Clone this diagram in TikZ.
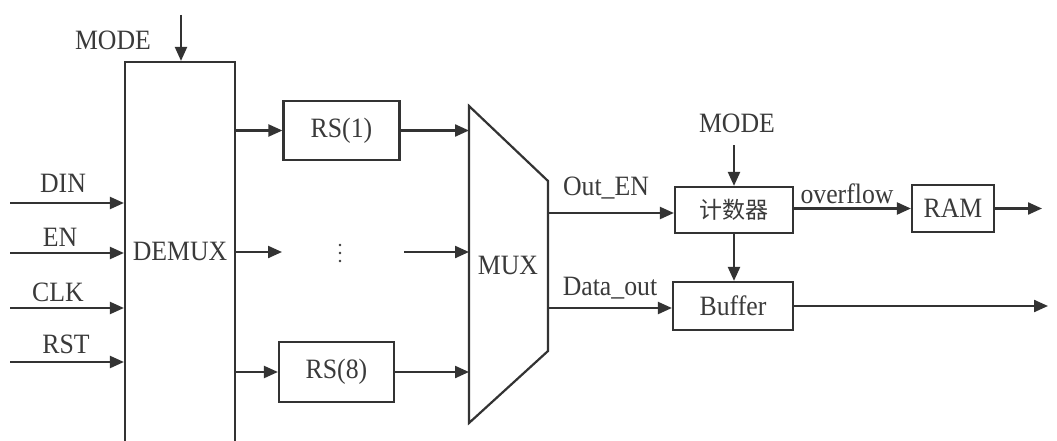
\documentclass[tikz,border=0pt]{standalone}
\usepackage{fontspec}
\setmainfont{Liberation Serif}[FakeStretch=0.92]
\newfontfamily\cjk{Noto Sans CJK SC}
\usetikzlibrary{arrows.meta}
\definecolor{ln}{HTML}{333333}
\definecolor{tx}{HTML}{3A3A3A}
\begin{document}
\begin{tikzpicture}[x=1pt,y=-1pt,line width=2.2pt,draw=ln,
  arr/.style={draw=ln,-{Triangle[length=14pt,width=12pt]}},
  blk/.style={draw=ln,rectangle,inner sep=0pt,minimum width=#1},
  lbl/.style={text=tx,font=\fontsize{28}{32}\selectfont,inner sep=0pt}]
\clip (0,0) rectangle (1057,441);
\fill[white] (0,0) rectangle (1057,441);
% DEMUX
\node[blk=110,minimum height=408] (demux) at (180,266) {};
\node[lbl] (demuxl) at (180,251) {DEMUX};
\node[lbl] (mode1) at (113,40) {MODE};
\coordinate (mtop) at (181,15);
\draw[arr] (mtop) -- (mtop |- demux.north);
% inputs
\node[lbl] (din) at (63,183) {DIN};
\node[lbl] (en) at (60,237) {EN};
\node[lbl] (clk) at (58,292) {CLK};
\node[lbl] (rst) at (66,344) {RST};
\coordinate (i1) at (10,203);
\coordinate (i2) at (10,253);
\coordinate (i3) at (10,308);
\coordinate (i4) at (10,362);
\foreach \c in {i1,i2,i3,i4} \draw[arr] (\c) -- (\c -| demux.west);
% RS blocks
\node[blk=116,minimum height=59,lbl,draw=ln] (rs1) at (341.5,130.5) {RS(1)};
\node[blk=115,minimum height=60,lbl,draw=ln] (rs8) at (336.5,372) {RS(8)};
\draw[arr] (demux.east |- rs1.west) -- (rs1.west);
\draw[arr] (demux.east |- rs8.west) -- (rs8.west);
\coordinate (dm) at (282,252);
\draw[arr] (demux.east |- dm) -- (dm);
\foreach \yy in {245,253,261} \fill[tx] (340,\yy) circle (1.4pt);
\coordinate (dm2) at (404,252);
% MUX
\coordinate (mtl) at (469,106);
\coordinate (mtr) at (548,181);
\coordinate (mbr) at (548,351);
\coordinate (mbl) at (469,423);
\draw[ln,line join=miter] (mtl) -- (mtr) -- (mbr) -- (mbl) -- cycle;
\node[lbl] (muxl) at (508,265) {MUX};
\draw[arr] (rs1.east) -- (rs1.east -| mtl);
\draw[arr] (rs8.east) -- (rs8.east -| mtl);
\draw[arr] (dm2) -- (dm2 -| mtl);
% counter, buffer, ram
\node[blk=118,minimum height=46,draw=ln] (cnt) at (734,210) {\cjk\fontsize{23}{26}\selectfont\color{tx}计数器};
\node[blk=120,minimum height=48,lbl,draw=ln] (buf) at (733,306) {Buffer};
\node[blk=82,minimum height=47,lbl,draw=ln] (ram) at (953,208.5) {RAM};
\node[lbl] (mode2) at (737,123) {MODE};
\coordinate (m2) at (734,145);
\draw[arr] (m2) -- (m2 |- cnt.north);
\coordinate (oe) at (548,213);
\draw[arr] (oe) -- (oe -| cnt.west);
\node[lbl] (oel) at (606,188) {Out\_EN};
\coordinate (dout) at (548,308);
\draw[arr] (dout) -- (dout -| buf.west);
\node[lbl] (doutl) at (610,288) {Data\_out};
\draw[arr] (cnt.south) -- (cnt.south |- buf.north);
\draw[arr] (cnt.east |- ram.west) -- (ram.west);
\node[lbl] (ovl) at (847,194) {overflow};
\coordinate (ro) at (1042,208.5);
\draw[arr] (ram.east) -- (ro);
\coordinate (bo) at (1048,306);
\draw[arr] (buf.east) -- (bo);
\end{tikzpicture}
\end{document}
